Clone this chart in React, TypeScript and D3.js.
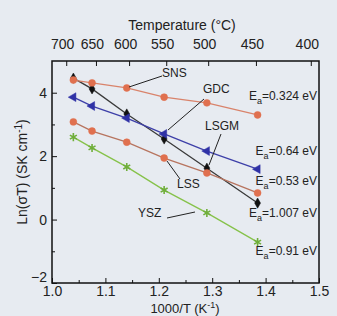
import { useEffect, useRef } from "react";
import * as d3 from "d3";

// 1000/T values shared by all series (K^-1)
const invT = [1.04, 1.075, 1.14, 1.21, 1.29, 1.385];

const snsVals = [4.4, 4.31, 4.15, 3.86, 3.68, 3.3];
const lsgmVals = [4.46, 4.12, 3.33, 2.54, 1.62, 0.52];
const gdcVals = [3.86, 3.58, 3.2, 2.7, 2.16, 1.59];
const lssVals = [3.08, 2.79, 2.44, 1.94, 1.47, 0.84];
const yszVals = [2.6, 2.26, 1.66, 0.93, 0.21, -0.71];

const xTicks = [1.0, 1.1, 1.2, 1.3, 1.4, 1.5];
const yTicks = [-2, 0, 2, 4];
const tempTicks = [700, 650, 600, 550, 500, 450, 400];

const eaLabels = ["0.324 eV", "0.64 eV", "0.53 eV", "1.007 eV", "0.91 eV"];

const W = 337;
const H = 316;

const App = () => {
  const svgRef = useRef<SVGSVGElement>(null);

  useEffect(() => {
    const svg = d3.select(svgRef.current);
    svg.selectAll("*").remove();

    const margin = { top: 61, right: 18, bottom: 33, left: 52 };
    const x = d3.scaleLinear().domain([1.0, 1.5]).range([margin.left, W - margin.right]);
    const y = d3.scaleLinear().domain([-2, 5]).range([H - margin.bottom, margin.top]);
    const font = "'Liberation Sans', Arial, sans-serif";

    svg.append("rect").attr("width", W).attr("height", H).attr("fill", "#e7ebf1");

    const series = [
      { vals: lsgmVals, line: "#3a3a3a", fill: "#111", sym: d3.symbolDiamond, size: 30, rot: 0 },
      { vals: snsVals, line: "#d9836b", fill: "#e0704f", sym: d3.symbolCircle, size: 38, rot: 0 },
      { vals: gdcVals, line: "#3d3fa8", fill: "#2f31a6", sym: d3.symbolTriangle, size: 34, rot: -90 },
      { vals: lssVals, line: "#b7745f", fill: "#e0704f", sym: d3.symbolCircle, size: 38, rot: 0 },
      { vals: yszVals, line: "#86c24a", fill: "#6fae3a", sym: d3.symbolAsterisk, size: 45, rot: 0 },
    ];

    const line = d3
      .line<number>()
      .x((d, i) => x(invT[i]))
      .y((d) => y(d));

    series.forEach((s) => {
      svg
        .append("path")
        .attr("d", line(s.vals))
        .attr("fill", "none")
        .attr("stroke", s.line)
        .attr("stroke-width", 1.3);
    });
    series.forEach((s) => {
      svg
        .append("g")
        .selectAll("path")
        .data(s.vals)
        .join("path")
        .attr("d", d3.symbol().type(s.sym).size(s.size)())
        .attr("transform", (d, i) => `translate(${x(invT[i])},${y(d)}) rotate(${s.rot})`)
        .attr("fill", s.fill)
        .attr("stroke", s.fill)
        .attr("stroke-width", s.sym === d3.symbolAsterisk ? 1.6 : 0.5);
    });

    // frame
    svg
      .append("rect")
      .attr("x", margin.left)
      .attr("y", margin.top)
      .attr("width", W - margin.left - margin.right)
      .attr("height", H - margin.top - margin.bottom)
      .attr("fill", "none")
      .attr("stroke", "#111")
      .attr("stroke-width", 1.5);

    // bottom axis
    const bottom = svg
      .append("g")
      .attr("transform", `translate(0,${H - margin.bottom})`)
      .call(d3.axisBottom(x).tickValues(xTicks).tickSize(-5).tickFormat(d3.format(".1f")))
      .call((g) => g.select(".domain").remove());
    bottom
      .append("g")
      .call(d3.axisBottom(x).tickValues(d3.range(1.05, 1.5, 0.1)).tickSize(-3).tickFormat(() => ""))
      .call((g) => g.select(".domain").remove());
    bottom.selectAll("text").attr("y", 3).attr("dy", "0.71em").attr("font-size", 14).attr("font-family", font).attr("fill", "#222");
    bottom.selectAll("line").attr("stroke", "#111");

    // left axis
    const left = svg
      .append("g")
      .attr("transform", `translate(${margin.left},0)`)
      .call(d3.axisLeft(y).tickValues(yTicks).tickSize(-5).tickFormat(d3.format("d")))
      .call((g) => g.select(".domain").remove());
    left
      .append("g")
      .call(d3.axisLeft(y).tickValues([-1, 1, 3]).tickSize(-3).tickFormat(() => ""))
      .call((g) => g.select(".domain").remove());
    left
      .selectAll("text")
      .attr("x", -5)
      .attr("y", (d) => (d === -2 ? -6 : 0))
      .attr("font-size", 14)
      .attr("font-family", font)
      .attr("fill", "#222");
    left.selectAll("line").attr("stroke", "#111");

    // top temperature axis
    const tx = (t: number) => x(1000 / (t + 273.15));
    const top = svg.append("g").attr("transform", `translate(0,${margin.top})`);
    top
      .selectAll("line")
      .data(tempTicks.filter((t) => tx(t) < W - margin.right - 2))
      .join("line")
      .attr("x1", (d) => tx(d))
      .attr("x2", (d) => tx(d))
      .attr("y1", 0)
      .attr("y2", 5)
      .attr("stroke", "#111");
    top
      .selectAll("text")
      .data(tempTicks)
      .join("text")
      .attr("x", (d) => tx(d) - 4)
      .attr("y", -12)
      .attr("text-anchor", "middle")
      .attr("font-size", 14)
      .attr("font-family", font)
      .attr("fill", "#222")
      .text((d) => d);

    svg
      .append("text")
      .attr("x", 182)
      .attr("y", 30)
      .attr("text-anchor", "middle")
      .attr("font-size", 14)
      .attr("font-family", font)
      .attr("fill", "#222")
      .text("Temperature (°C)");

    // x title
    const xt = svg
      .append("text")
      .attr("x", 185)
      .attr("y", 313)
      .attr("text-anchor", "middle")
      .attr("font-size", 13)
      .attr("font-family", font)
      .attr("fill", "#222");
    xt.append("tspan").text("1000/T (K");
    xt.append("tspan").attr("dy", -5).attr("font-size", 9).text("-1");
    xt.append("tspan").attr("dy", 5).text(")");

    // y title
    const yt = svg
      .append("text")
      .attr("transform", "translate(27,172) rotate(-90)")
      .attr("text-anchor", "middle")
      .attr("font-size", 14)
      .attr("font-family", font)
      .attr("fill", "#222");
    yt.append("tspan").text("Ln(σT) (SK cm");
    yt.append("tspan").attr("dy", -5).attr("font-size", 10).text("-1");
    yt.append("tspan").attr("dy", 5).text(")");

    // activation energy labels
    const eaY = [96, 151, 181, 213, 251];
    eaLabels.forEach((lab, i) => {
      const t = svg
        .append("text")
        .attr("x", 317)
        .attr("y", eaY[i] + 4)
        .attr("text-anchor", "end")
        .attr("font-size", 12)
        .attr("font-family", font)
        .attr("fill", "#222");
      t.append("tspan").text("E");
      t.append("tspan").attr("dy", 4).attr("font-size", 9).text("a");
      t.append("tspan").attr("dy", -4).text("=" + lab);
    });

    // material labels with pointers
    const labels = [
      { text: "SNS", tx: 162, ty: 77, x1: 162, y1: 76, x2: 129, y2: 87 },
      { text: "GDC", tx: 203, ty: 93, x1: 204, y1: 99, x2: 168, y2: 130 },
      { text: "LSGM", tx: 205, ty: 130, x1: 221, y1: 134, x2: 209, y2: 165 },
      { text: "LSS", tx: 177, ty: 188, x1: 180, y1: 179, x2: 167, y2: 161 },
      { text: "YSZ", tx: 138, ty: 217, x1: 167, y1: 218, x2: 195, y2: 212 },
    ];
    labels.forEach((l) => {
      svg
        .append("line")
        .attr("x1", l.x1)
        .attr("y1", l.y1)
        .attr("x2", l.x2)
        .attr("y2", l.y2)
        .attr("stroke", "#222")
        .attr("stroke-width", 1);
      svg
        .append("text")
        .attr("x", l.tx)
        .attr("y", l.ty)
        .attr("font-size", 12)
        .attr("font-family", font)
        .attr("fill", "#222")
        .text(l.text);
    });
  }, []);

  return (
    <svg
      ref={svgRef}
      width={W}
      height={H}
      style={{ position: "absolute", left: 0, top: 0 }}
    />
  );
};

export default App;
